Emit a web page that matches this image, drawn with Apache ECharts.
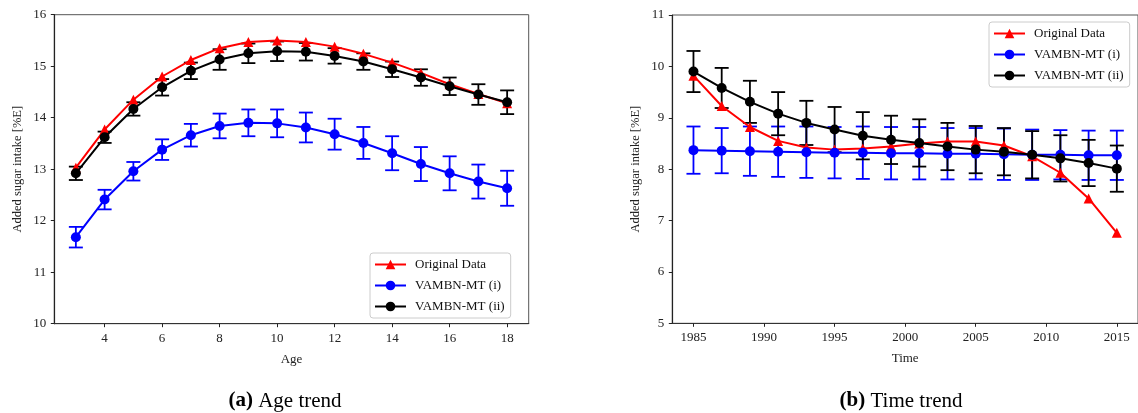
<!DOCTYPE html>
<html>
<head>
<meta charset="utf-8">
<script src="https://cdn.jsdelivr.net/npm/echarts@6/dist/echarts.min.js"></script>
<style>
html,body{margin:0;padding:0;background:#fff;}
#c{width:1138px;height:413px;}
</style>
</head>
<body>
<div id="c"></div>
<script>
// ---------- data ----------
const ages = [3,4,5,6,7,8,9,10,11,12,13,14,15,16,17,18];
const origAge = [13.03,13.77,14.35,14.80,15.12,15.35,15.47,15.50,15.47,15.38,15.24,15.07,14.87,14.65,14.46,14.28];
const vambn1Age = [11.68,12.41,12.96,13.38,13.66,13.84,13.90,13.89,13.81,13.68,13.51,13.31,13.10,12.92,12.76,12.63];
const vambn1AgeErr = [0.20,0.19,0.18,0.20,0.22,0.24,0.26,0.27,0.29,0.30,0.31,0.33,0.33,0.33,0.33,0.34];
const vambn2Age = [12.92,13.62,14.17,14.59,14.91,15.13,15.25,15.29,15.28,15.20,15.09,14.94,14.78,14.61,14.45,14.30];
const vambn2AgeErr = [0.13,0.11,0.13,0.16,0.16,0.20,0.19,0.19,0.17,0.15,0.16,0.15,0.16,0.17,0.20,0.23];

const years = [1985,1987,1989,1991,1993,1995,1997,1999,2001,2003,2005,2007,2009,2011,2013,2015];
const origTime = [9.82,9.23,8.82,8.55,8.42,8.38,8.40,8.44,8.50,8.54,8.54,8.46,8.25,7.93,7.43,6.76];
const vambn1Time = [8.37,8.36,8.35,8.34,8.33,8.32,8.32,8.31,8.31,8.30,8.30,8.29,8.28,8.28,8.27,8.27];
const vambn1TimeErr = [0.46,0.44,0.48,0.49,0.50,0.50,0.51,0.51,0.51,0.50,0.50,0.50,0.49,0.48,0.48,0.48];
const vambn2Time = [9.90,9.58,9.31,9.08,8.90,8.77,8.65,8.57,8.51,8.44,8.38,8.34,8.28,8.21,8.12,8.01];
const vambn2TimeErr = [0.40,0.39,0.41,0.42,0.43,0.44,0.46,0.47,0.46,0.46,0.46,0.46,0.46,0.45,0.45,0.45];

const ageTicks = [4,6,8,10,12,14,16,18];
const yearTicks = [1985,1990,1995,2000,2005,2010,2015];
const seriesNames = ['Original Data','VAMBN-MT (i)','VAMBN-MT (ii)'];
const yName = 'Added sugar intake [%E]';

// ---------- helpers ----------
const FONT = 'Liberation Serif';
const RED = '#ff0000', BLUE = '#0000ff', BLACK = '#000000';

function pairs(xs, ys){ return xs.map((x,i)=>[x, ys[i]]); }
function errData(xs, ys, es){ return xs.map((x,i)=>[x, ys[i]-es[i], ys[i]+es[i]]); }

function errSeries(name, xs, ys, es, color, idx){
  return {
    type:'custom', name: name + ' err', xAxisIndex: idx, yAxisIndex: idx,
    data: errData(xs, ys, es), silent:true, z: 2,
    renderItem: function(params, api){
      const x = api.value(0), lo = api.value(1), hi = api.value(2);
      const p1 = api.coord([x, lo]), p2 = api.coord([x, hi]);
      const w = 7;
      const st = {stroke: color, lineWidth: 1.8};
      return {type:'group', children:[
        {type:'line', shape:{x1:p1[0], y1:p1[1], x2:p2[0], y2:p2[1]}, style:st},
        {type:'line', shape:{x1:p1[0]-w, y1:p1[1], x2:p1[0]+w, y2:p1[1]}, style:st},
        {type:'line', shape:{x1:p2[0]-w, y1:p2[1], x2:p2[0]+w, y2:p2[1]}, style:st}
      ]};
    }
  };
}
function lineSeries(name, xs, ys, color, symbol, size, idx, z){
  return {
    type:'line', name:name, xAxisIndex: idx, yAxisIndex: idx,
    data: pairs(xs, ys), symbol: symbol, symbolSize: size, showSymbol:true,
    lineStyle:{color:color, width:2}, itemStyle:{color:color},
    z: z, animation:false
  };
}

function xAxisCfg(idx, min, max, ticks, name){
  return {
    type:'value', gridIndex: idx, min:min, max:max,
    name:name, nameLocation:'middle', nameGap:29,
    nameTextStyle:{fontFamily:FONT, fontSize:13, color:'#222'},
    axisLine:{show:true, onZero:false, lineStyle:{color:'#333', width:1.2}},
    axisTick:{show:true, length:3.5, customValues: ticks, lineStyle:{color:'#222', width:1}},
    axisLabel:{customValues: ticks, formatter: v => String(v), margin:8, fontFamily:FONT, fontSize:13, color:'#222'},
    splitLine:{show:false}
  };
}
function yAxisCfg(idx, min, max){
  return {
    type:'value', gridIndex: idx, min:min, max:max, interval:1,
    name:yName, nameLocation:'middle', nameGap:30, nameRotate:90,
    nameTextStyle:{fontFamily:FONT, fontSize:12.5, color:'#222'},
    axisLine:{show:true, onZero:false, lineStyle:{color:'#222', width:1.2}},
    axisTick:{show:true, length:3.5, lineStyle:{color:'#222', width:1}},
    axisLabel:{margin:8, fontFamily:FONT, fontSize:13, color:'#222'},
    splitLine:{show:false}
  };
}
function legendCfg(left, top, idxSuffix){
  return {
    show:true, orient:'vertical', left:left, top:top,
    data: seriesNames.map(n=>n+idxSuffix).map(n=>({name:n})),
    formatter: function(n){ return n.replace(/#\d$/, ''); },
    itemWidth:31, itemHeight:12, itemGap:8,
    padding:[5,6,5,4],
    backgroundColor:'rgba(255,255,255,0.8)',
    borderColor:'#cccccc', borderWidth:1, borderRadius:3,
    textStyle:{fontFamily:FONT, fontSize:13, color:'#111', padding:[0,0,0,4]},
    selectedMode:false
  };
}

const option = {
  animation:false,
  backgroundColor:'#ffffff',
  grid:[
    {left:54.3, top:14.7, width:474.4, height:309, show:true, borderColor:'#555', borderWidth:1, backgroundColor:'transparent'},
    {left:672.3, top:15, width:475, height:308.3, show:true, borderColor:'#555', borderWidth:1, backgroundColor:'transparent'}
  ],
  xAxis:[ xAxisCfg(0, 2.25, 18.75, ageTicks, 'Age'), xAxisCfg(1, 1983.5, 2016.5, yearTicks, 'Time') ],
  yAxis:[ yAxisCfg(0, 10, 16), yAxisCfg(1, 5, 11) ],
  legend:[ legendCfg(370, 253, '#0'), legendCfg(989, 22, '#1') ],
  series:[
    lineSeries(seriesNames[0]+'#0', ages, origAge, RED, 'triangle', 10, 0, 3),
    errSeries('b0', ages, vambn1Age, vambn1AgeErr, BLUE, 0),
    lineSeries(seriesNames[1]+'#0', ages, vambn1Age, BLUE, 'circle', 10, 0, 4),
    errSeries('k0', ages, vambn2Age, vambn2AgeErr, BLACK, 0),
    lineSeries(seriesNames[2]+'#0', ages, vambn2Age, BLACK, 'circle', 10, 0, 5),

    lineSeries(seriesNames[0]+'#1', years, origTime, RED, 'triangle', 10, 1, 3),
    errSeries('b1', years, vambn1Time, vambn1TimeErr, BLUE, 1),
    lineSeries(seriesNames[1]+'#1', years, vambn1Time, BLUE, 'circle', 10, 1, 4),
    errSeries('k1', years, vambn2Time, vambn2TimeErr, BLACK, 1),
    lineSeries(seriesNames[2]+'#1', years, vambn2Time, BLACK, 'circle', 10, 1, 5)
  ],
  graphic:[
    {type:'text', x:285, y:401, style:{
      text:'{b|(a)} Age trend', textAlign:'center', textVerticalAlign:'middle',
      font:'21px "Liberation Serif"', fill:'#000',
      rich:{b:{fontWeight:'bold', fontFamily:FONT, fontSize:21, fill:'#000'}}
    }},
    {type:'text', x:901, y:401, style:{
      text:'{b|(b)} Time trend', textAlign:'center', textVerticalAlign:'middle',
      font:'21px "Liberation Serif"', fill:'#000',
      rich:{b:{fontWeight:'bold', fontFamily:FONT, fontSize:21, fill:'#000'}}
    }}
  ]
};

const chart = echarts.init(document.getElementById('c'), null, {renderer:'canvas'});
chart.setOption(option);
</script>
</body>
</html>
